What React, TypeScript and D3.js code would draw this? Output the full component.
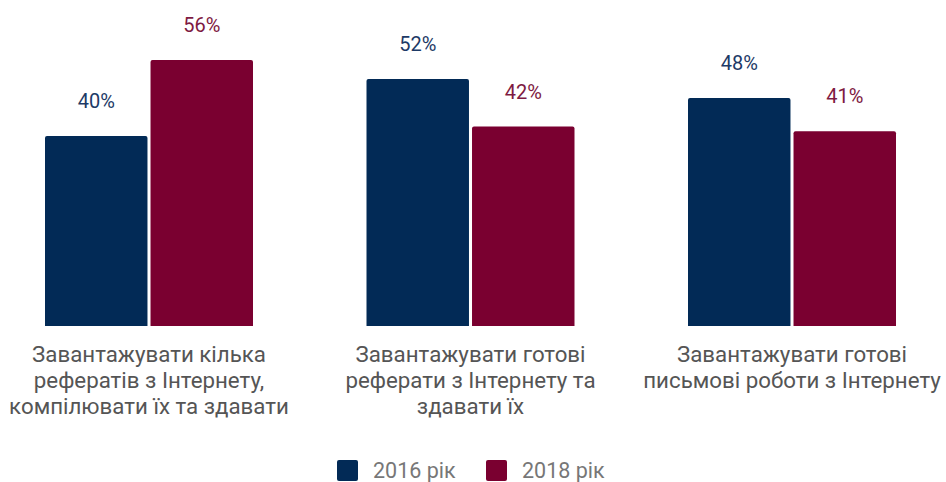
import React from "react";
import * as d3 from "d3";

const categories = [
  ["Завантажувати кілька", "рефератів з Інтернету,", "компілювати їх та здавати"],
  ["Завантажувати готові", "реферати з Інтернету та", "здавати їх"],
  ["Завантажувати готові", "письмові роботи з Інтернету"],
];
const seriesNames = ["2016 рік", "2018 рік"];
const values2016 = [40, 52, 48];
const values2018 = [56, 42, 41];
const barColors = ["#022a56", "#7a0030"];
const labelColors = ["#1d3a66", "#7e1a42"];

const W = 946;
const H = 482;
const baseY = 326;
const font = "Roboto, 'Noto Sans', sans-serif";

// top-rounded bar path
function barPath(x: number, y: number, w: number, h: number, r: number) {
  return `M${x},${y + h}V${y + r}Q${x},${y} ${x + r},${y}H${x + w - r}Q${x + w},${y} ${x + w},${y + r}V${y + h}Z`;
}

export default function App() {
  const series = [values2016, values2018];
  const idx = categories.map((_, i) => i);

  const step = 321.5;
  const groupW = 208;
  const pad = (step - groupW) / step;
  const x0 = d3
    .scaleBand<number>()
    .domain(idx)
    .range([45 - (step - groupW) / 2, 45 - (step - groupW) / 2 + 3 * step])
    .paddingInner(pad)
    .paddingOuter(pad / 2);
  const x1 = d3
    .scaleBand<number>()
    .domain([0, 1])
    .range([0, x0.bandwidth()])
    .paddingInner(3 / 104);
  const y = d3.scaleLinear().domain([0, 100]).range([baseY, baseY - 475]);

  return (
    <svg
      width={W}
      height={H}
      style={{ position: "absolute", left: 0, top: 0, background: "#fff" }}
      fontFamily={font}
    >
      {idx.map((i) => (
        <g key={i} transform={`translate(${x0(i)},0)`}>
          {series.map((vals, s) => {
            const bx = x1(s) as number;
            const by = y(vals[i]);
            return (
              <g key={s}>
                <path
                  d={barPath(bx, by, x1.bandwidth(), baseY - by, 2)}
                  fill={barColors[s]}
                />
                <text
                  x={bx + x1.bandwidth() / 2}
                  y={by - 28}
                  textAnchor="middle"
                  fontSize={20}
                  fill={labelColors[s]}
                >
                  {vals[i]}%
                </text>
              </g>
            );
          })}
          <text
            x={x0.bandwidth() / 2}
            textAnchor="middle"
            fontSize={22.3}
            fill="#555"
          >
            {categories[i].map((line, k) => (
              <tspan key={k} x={x0.bandwidth() / 2} y={362 + k * 26}>
                {line}
              </tspan>
            ))}
          </text>
        </g>
      ))}
      <g>
        {seriesNames.map((name, s) => (
          <g key={name} transform={`translate(${337 + s * 149},460)`}>
            <rect width={21} height={21} rx={2} fill={barColors[s]} />
            <text x={36} y={18} fontSize={21.5} fill="#777">
              {name}
            </text>
          </g>
        ))}
      </g>
    </svg>
  );
}
